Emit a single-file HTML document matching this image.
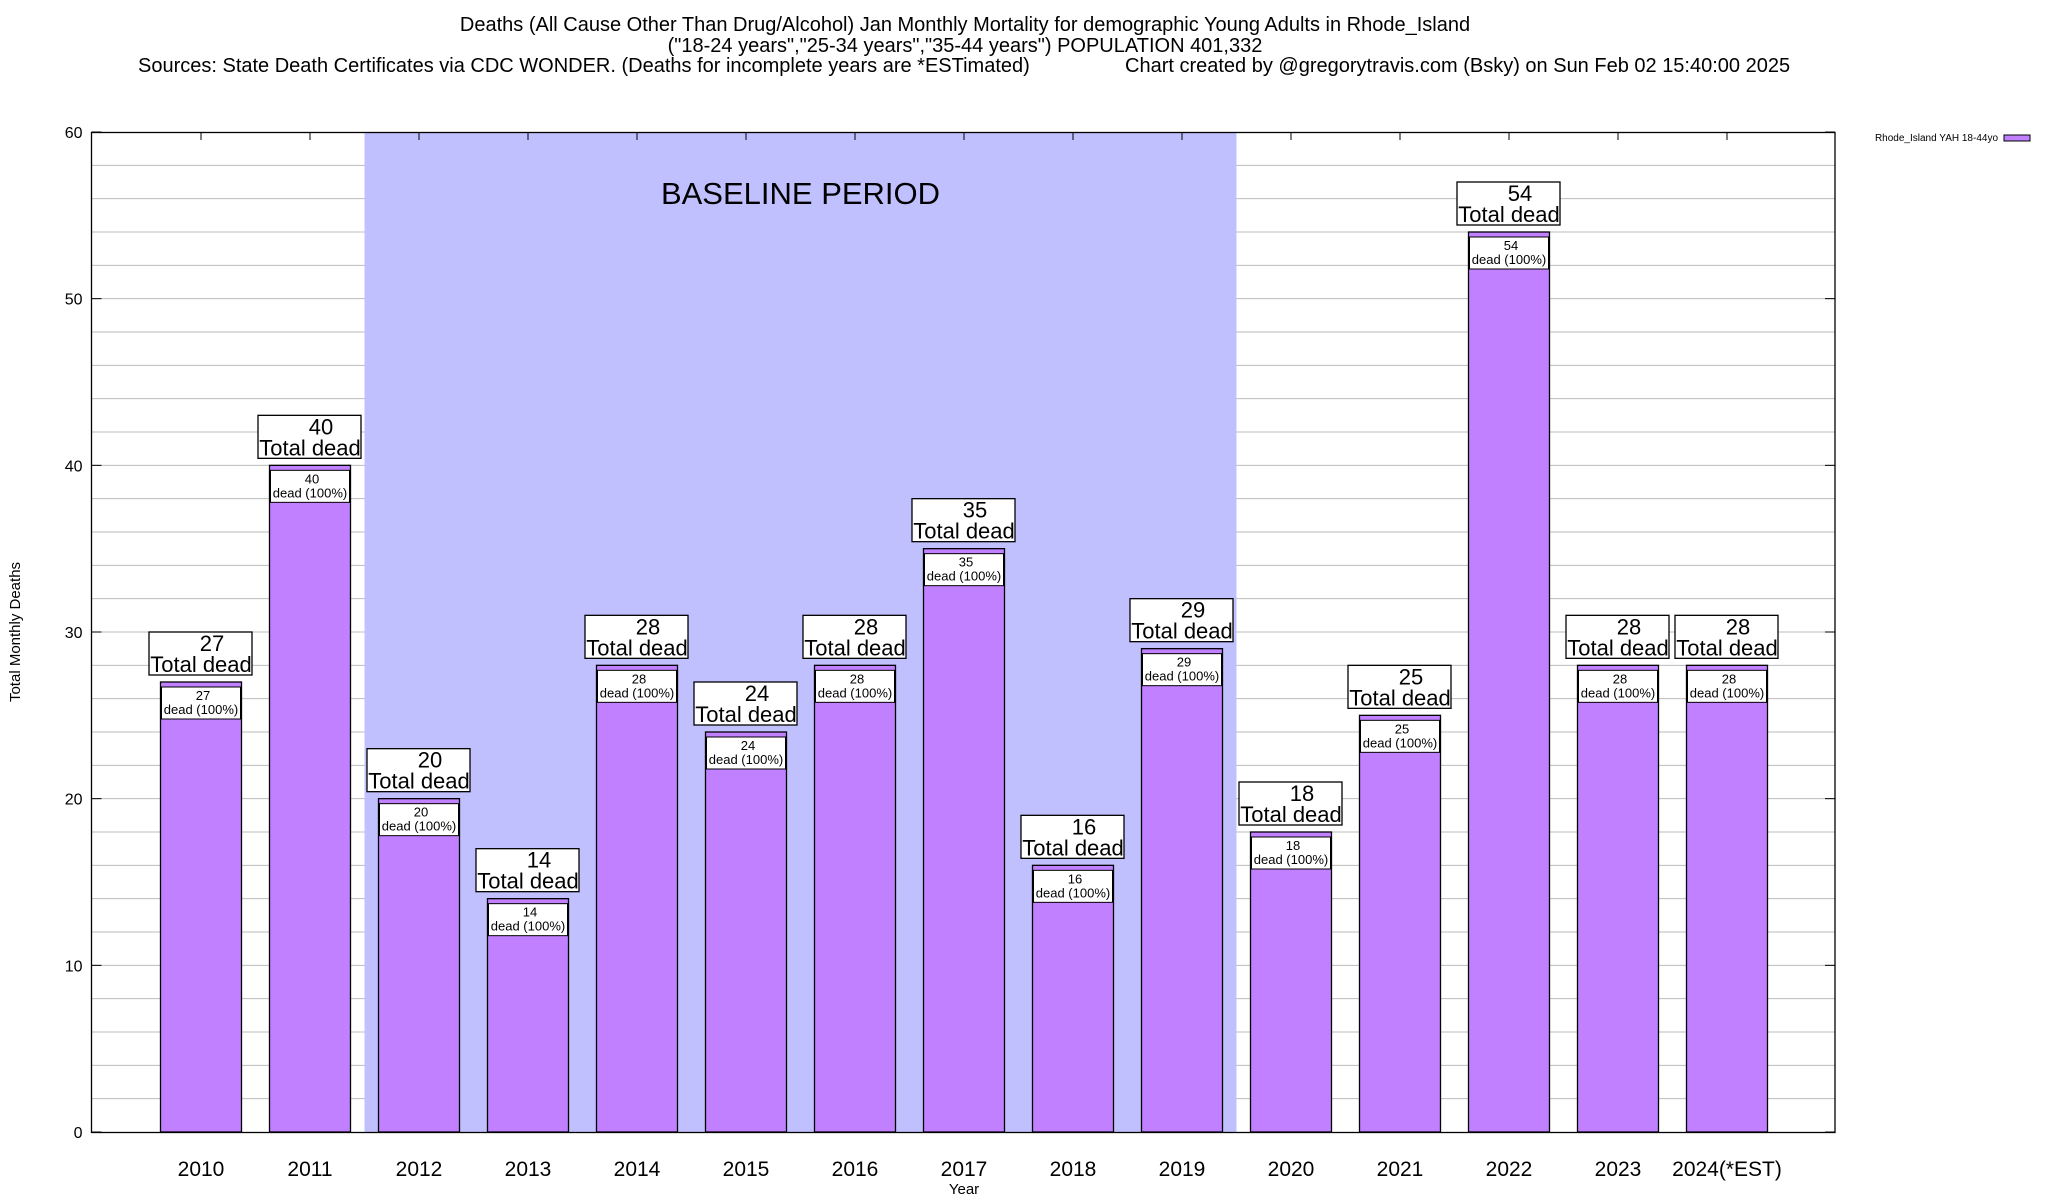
<!DOCTYPE html>
<html><head><meta charset="utf-8"><style>
html,body{margin:0;padding:0;background:#fff;}
svg{display:block;font-family:"Liberation Sans",Arial,sans-serif;}
</style></head><body>
<svg id="chart" width="2048" height="1200" viewBox="0 0 2048 1200">
<g font-size="20" text-anchor="middle">
<text x="965" y="31">Deaths (All Cause Other Than Drug/Alcohol) Jan Monthly Mortality for demographic Young Adults in Rhode_Island</text>
<text x="965" y="52">("18-24 years","25-34 years","35-44 years") POPULATION 401,332</text>
<text x="138" y="72" text-anchor="start">Sources: State Death Certificates via CDC WONDER. (Deaths for incomplete years are *ESTimated)</text>
<text x="1125" y="72" text-anchor="start">Chart created by @gregorytravis.com (Bsky) on Sun Feb 02 15:40:00 2025</text>
</g>
<g id="grid"></g>
<rect id="baseline" fill="#c0c0ff"/>
<text id="baseline-label" font-size="31" text-anchor="middle">BASELINE PERIOD</text>
<g id="bars"></g>
<rect x="91.5" y="132.5" width="1743.5" height="1000" fill="none" stroke="#000" stroke-width="1.3"/>
<g id="yticks" font-size="16" text-anchor="end"></g>
<g id="xticks" font-size="21" text-anchor="middle"></g>
<text x="0" y="0" transform="translate(20,632) rotate(-90)" font-size="15" text-anchor="middle">Total Monthly Deaths</text>
<text x="964" y="1194" font-size="15" text-anchor="middle">Year</text>
<g>
<text x="1998" y="141" font-size="10" text-anchor="end">Rhode_Island YAH 18-44yo</text>
<rect x="2004" y="135" width="26" height="6" fill="#c080ff" stroke="#000" stroke-width="1"/>
</g>
</svg>
<script>
const categories=["2010","2011","2012","2013","2014","2015","2016","2017","2018","2019","2020","2021","2022","2023","2024(*EST)"];
const deaths=[27,40,20,14,28,24,28,35,16,29,18,25,54,28,28];
const yTicks=[0,10,20,30,40,50,60];
const baselineRange=[2012,2019];
const NS="http://www.w3.org/2000/svg";
const L=91.5,R=1835,T=132,B=1132,YMAX=60;
const y=v=>B-(v/YMAX)*(B-T);
const step=109.0, x0=201;
const xc=i=>x0+i*step;
function mk(tag,attrs,parent,txt){const e=document.createElementNS(NS,tag);for(const k in attrs)e.setAttribute(k,attrs[k]);if(txt!==undefined)e.textContent=txt;parent.appendChild(e);return e;}
const grid=document.getElementById('grid');
for(let v=2;v<YMAX;v+=2){const g=mk('line',{x1:L,x2:R,y1:y(v),y2:y(v),stroke:'#bbb','stroke-width':1},grid);

}
const bi0=categories.indexOf(String(baselineRange[0])),bi1=categories.indexOf(String(baselineRange[1]));
const bl=document.getElementById('baseline');
const bx0=xc(bi0)-step/2,bx1=xc(bi1)+step/2;
bl.setAttribute('x',bx0);bl.setAttribute('y',T);bl.setAttribute('width',bx1-bx0);bl.setAttribute('height',B-T);
const blt=document.getElementById('baseline-label');blt.setAttribute('x',(bx0+bx1)/2);blt.setAttribute('y',y(55.5)-3);
const bars=document.getElementById('bars');
const bw=81;
deaths.forEach((d,i)=>{
 const cx=xc(i),top=y(d);
 const r=mk('rect',{x:cx-bw/2,y:top,width:bw,height:B-top,fill:'#c080ff',stroke:'#000','stroke-width':1.3},bars);
 
 
 const g=mk('g',{},bars);
 
 
 mk('rect',{x:cx-bw/2+1,y:top+5,width:bw-2,height:32,fill:'#fff',stroke:'#000','stroke-width':1},g);
 mk('text',{x:cx+2,y:top+18,'font-size':13,'text-anchor':'middle'},g,String(d));
 mk('text',{x:cx,y:top+32,'font-size':13,'text-anchor':'middle'},g,'dead (100%)');
 const g2=mk('g',{},bars);
 
 
 mk('rect',{x:cx-52,y:top-50,width:103,height:43,fill:'#fff',stroke:'#000','stroke-width':1.3},g2);
 mk('text',{x:cx+11,y:top-31,'font-size':22,'text-anchor':'middle'},g2,String(d));
 mk('text',{x:cx,y:top-10,'font-size':22,'text-anchor':'middle'},g2,'Total dead');
});
const yt=document.getElementById('yticks');
yTicks.forEach(v=>{const t=mk('text',{x:L-9,y:y(v)+6},yt,String(v));


mk('line',{x1:L,x2:L+10,y1:y(v),y2:y(v),stroke:'#000'},yt);
mk('line',{x1:R-10,x2:R,y1:y(v),y2:y(v),stroke:'#000'},yt);});
const xt=document.getElementById('xticks');
categories.forEach((c,i)=>{const t=mk('text',{x:xc(i),y:1176},xt,c);


mk('line',{x1:xc(i),x2:xc(i),y1:T,y2:T+8,stroke:'#000'},xt);});
</script>
</body></html>
